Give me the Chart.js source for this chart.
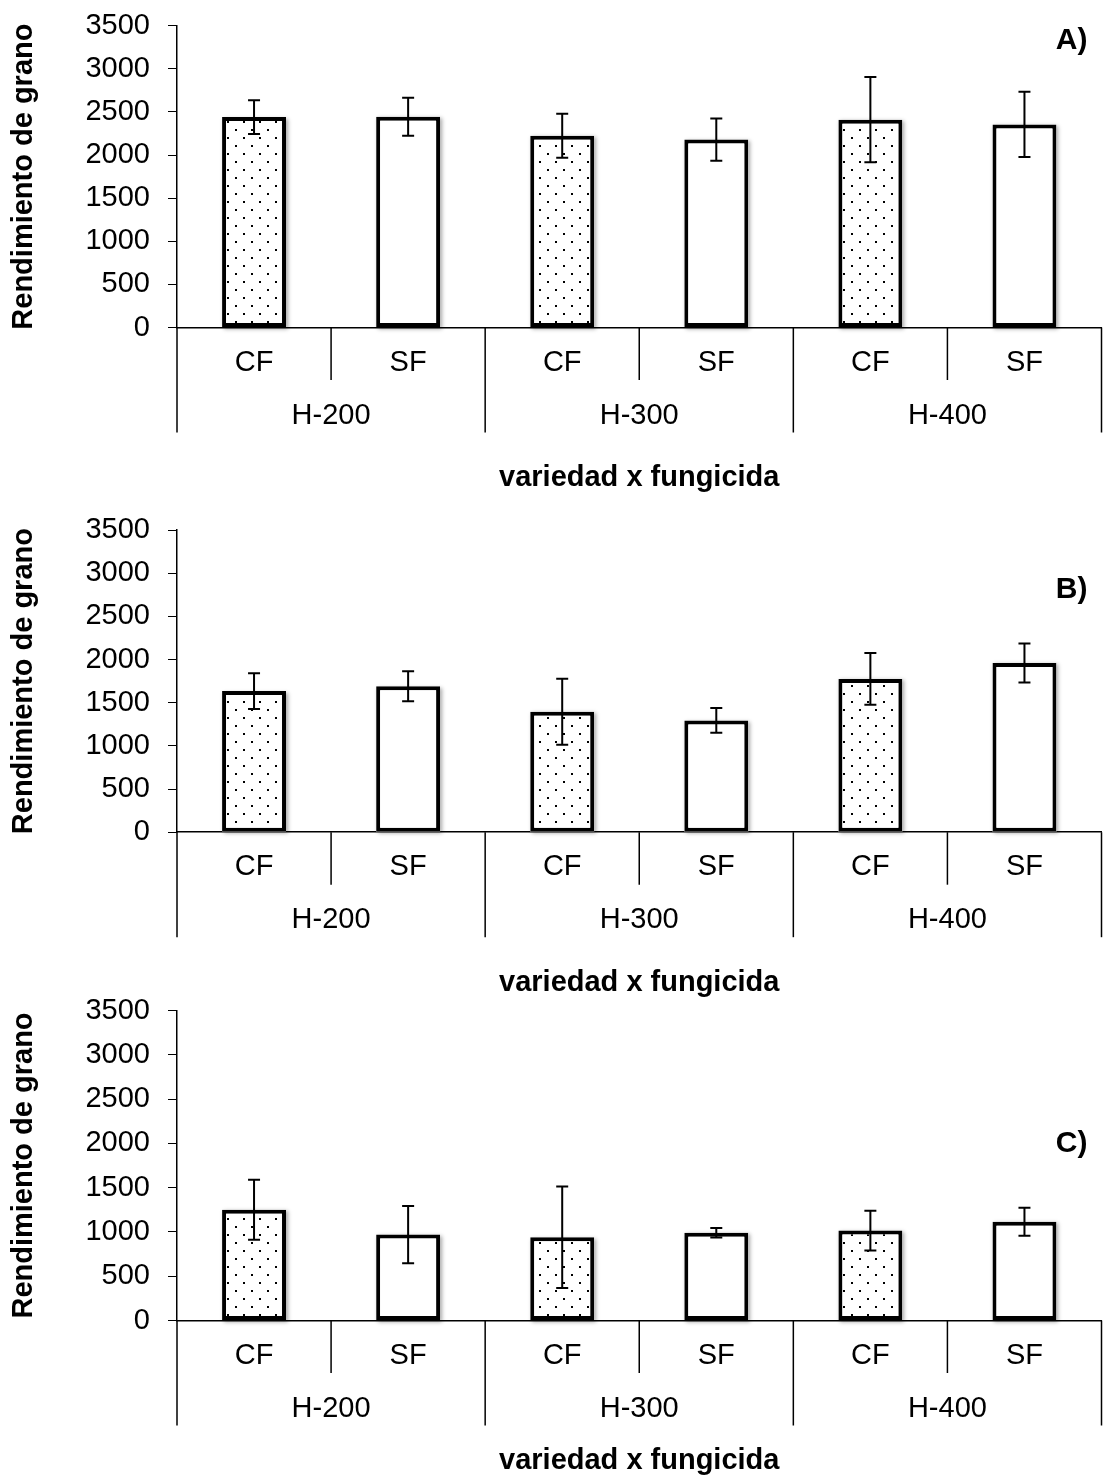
<!DOCTYPE html>
<html>
<head>
<meta charset="utf-8">
<title>Rendimiento de grano</title>
<script src="https://cdn.jsdelivr.net/npm/chart.js@4.4.1/dist/chart.umd.min.js"></script>
<style>
  html, body { margin: 0; padding: 0; background: #fff; }
  body { width: 1103px; height: 1477px; position: relative; overflow: hidden; }
  .panel { position: absolute; left: 0; width: 1103px; }
</style>
</head>
<body>
<div class="panel" style="top:-10px;height:510px"><canvas id="chartA"></canvas></div>
<div class="panel" style="top:490px;height:510px"><canvas id="chartB"></canvas></div>
<div class="panel" style="top:975px;height:502px"><canvas id="chartC"></canvas></div>
<script>
// Treatment labels: fungicide level (inner) within each variety (outer)
const fungicideLabels = ['CF', 'SF', 'CF', 'SF', 'CF', 'SF'];
const varietyLabels = ['H-200', 'H-300', 'H-400'];

// Y axis range (grain yield)
const yMin = 0;
const yMax = 3500;
const yStep = 500;

// A) mean yield and error
const yieldA = [2440, 2445, 2225, 2180, 2410, 2355];
const errorA = [195, 220, 255, 245, 495, 378];

// B) mean yield and error
const yieldB = [1635, 1690, 1395, 1295, 1775, 1960];
const errorB = [207, 174, 382, 143, 299, 225];

// C) mean yield and error
const yieldC = [1250, 970, 940, 990, 1015, 1115];
const errorC = [338, 323, 574, 53, 225, 157];

const FONT = '"Liberation Sans", Arial, Helvetica, sans-serif';
const LABEL_SIZE = 29;
const TITLE_SIZE = 29;
Chart.defaults.font.family = FONT;
Chart.defaults.color = '#000';

// Dotted fill used for the CF bars
function makeDotPattern() {
  const c = document.createElement('canvas');
  c.width = 16; c.height = 16;
  const g = c.getContext('2d');
  g.fillStyle = '#fff';
  g.fillRect(0, 0, 16, 16);
  g.fillStyle = '#000';
  g.fillRect(3, 3, 2, 2);
  g.fillRect(11, 11, 2, 2);
  return g.createPattern(c, 'repeat');
}
const dotPattern = makeDotPattern();

// Draws bar shadows, error bars, two-level category axis and panel letter
const groupAxisPlugin = {
  id: 'groupAxis',
  beforeDatasetsDraw(chart) {
    const ctx = chart.ctx;
    const meta = chart.getDatasetMeta(0);
    ctx.save();
    ctx.shadowColor = 'rgba(0,0,0,0.35)';
    ctx.shadowBlur = 4;
    ctx.shadowOffsetX = 1.5;
    ctx.shadowOffsetY = 1.5;
    ctx.fillStyle = '#fff';
    meta.data.forEach(bar => {
      const w = bar.width;
      ctx.fillRect(bar.x - w / 2, bar.y, w, bar.base - bar.y);
    });
    ctx.restore();
  },
  afterDatasetsDraw(chart, args, opts) {
    const ctx = chart.ctx;
    const y = chart.scales.y;
    const meta = chart.getDatasetMeta(0);
    const values = chart.data.datasets[0].data;
    ctx.save();
    ctx.strokeStyle = '#000';
    ctx.lineWidth = 2;
    meta.data.forEach((bar, i) => {
      const hi = y.getPixelForValue(values[i] + opts.errors[i]);
      const lo = y.getPixelForValue(values[i] - opts.errors[i]);
      const cap = 6;
      ctx.beginPath();
      ctx.moveTo(bar.x, hi); ctx.lineTo(bar.x, lo);
      ctx.moveTo(bar.x - cap, hi); ctx.lineTo(bar.x + cap, hi);
      ctx.moveTo(bar.x - cap, lo); ctx.lineTo(bar.x + cap, lo);
      ctx.stroke();
    });
    ctx.restore();
  },
  afterDraw(chart, args, opts) {
    const ctx = chart.ctx;
    const x = chart.scales.x;
    const y = chart.scales.y;
    const bottom = chart.chartArea.bottom;
    const step = x.getPixelForValue(1) - x.getPixelForValue(0);
    const first = x.getPixelForValue(0) - step / 2;
    ctx.save();
    ctx.strokeStyle = '#000';
    ctx.lineWidth = 1.5;
    for (let k = 0; k <= fungicideLabels.length; k++) {
      const bx = first + k * step;
      const len = (k % 2 === 0) ? 105 : 52.5;
      ctx.beginPath();
      ctx.moveTo(bx, bottom);
      ctx.lineTo(bx, bottom + len);
      ctx.stroke();
    }
    ctx.fillStyle = '#000';
    ctx.font = LABEL_SIZE + 'px ' + FONT;
    ctx.textAlign = 'center';
    ctx.textBaseline = 'middle';
    varietyLabels.forEach((lab, g) => {
      const cx = (x.getPixelForValue(2 * g) + x.getPixelForValue(2 * g + 1)) / 2;
      ctx.fillText(lab, cx, bottom + 88);
    });
    ctx.font = 'bold 30px ' + FONT;
    ctx.textAlign = 'right';
    ctx.fillText(opts.letter, chart.chartArea.right - 14, y.getPixelForValue(opts.letterAt));
    ctx.restore();
  }
};

function makePanel(id, values, errors, letter, letterAt, layoutTop, axisHeight, titlePad) {
  return new Chart(document.getElementById(id), {
    type: 'bar',
    data: {
      labels: fungicideLabels,
      datasets: [{
        data: values,
        backgroundColor: fungicideLabels.map(f => f === 'CF' ? dotPattern : '#fff'),
        borderColor: '#000',
        borderWidth: 4,
        borderSkipped: false,
        barPercentage: 0.415,
        categoryPercentage: 1.0
      }]
    },
    options: {
      responsive: true,
      maintainAspectRatio: false,
      animation: false,
      events: [],
      layout: { padding: { top: layoutTop, right: 1.5, left: 0, bottom: 0 } },
      plugins: {
        legend: { display: false },
        tooltip: { enabled: false },
        groupAxis: { errors: errors, letter: letter, letterAt: letterAt }
      },
      scales: {
        x: {
          offset: true,
          grid: { display: false, drawTicks: false },
          border: { display: true, color: '#000', width: 1.5 },
          ticks: { font: { size: LABEL_SIZE }, color: '#000', padding: 17.6, maxRotation: 0, autoSkip: false },
          title: {
            display: true,
            text: 'variedad x fungicida',
            font: { size: TITLE_SIZE, weight: 'bold', lineHeight: 1 },
            color: '#000',
            padding: { top: 0, bottom: titlePad }
          },
          afterFit(scale) { scale.height = axisHeight; }
        },
        y: {
          min: yMin,
          max: yMax,
          ticks: {
            stepSize: yStep,
            font: { size: LABEL_SIZE },
            color: '#000',
            padding: 18,
            callback: v => String(v)
          },
          grid: { display: true, drawOnChartArea: false, drawTicks: true, tickLength: 9, color: '#000', lineWidth: 1 },
          border: { display: true, color: '#000', width: 1.5 },
          title: {
            display: true,
            text: 'Rendimiento de grano',
            font: { size: TITLE_SIZE, weight: 'bold', lineHeight: 1 },
            color: '#000',
            padding: { top: 9.5, bottom: 0 }
          },
          afterFit(scale) { scale.width = 177; }
        }
      }
    },
    plugins: [groupAxisPlugin]
  });
}

makePanel('chartA', yieldA, errorA, 'A)', 3320, 35.7, 172.5, 7.5);
makePanel('chartB', yieldB, errorB, 'B)', 2810, 40, 167.8, 2.5);
makePanel('chartC', yieldC, errorC, 'C)', 2000, 35.5, 156.5, 1.5);
</script>
</body>
</html>
